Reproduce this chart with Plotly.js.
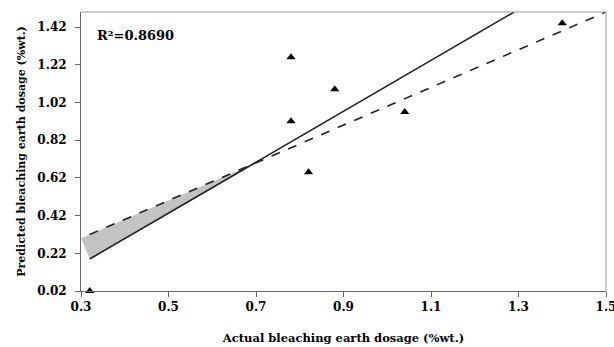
<!DOCTYPE html>
<html>
<head>
<meta charset="utf-8">
<script src="https://cdn.plot.ly/plotly-3.0.1.min.js"></script>
<style>html,body{margin:0;padding:0;background:#fff;}#chart{width:614px;height:347px;}</style>
</head>
<body>
<div id="chart"></div>
<script>
// Observed data (actual vs predicted bleaching earth dosage)
var actualX = [0.32, 0.78, 0.78, 0.82, 0.88, 1.04, 1.40];
var predictedY = [0.02, 1.26, 0.92, 0.65, 1.09, 0.97, 1.44];

// Fitted regression line (solid)
var fitX = [0.32, 1.29];
var fitY = [0.19, 1.50];

// Ideal line y = x (dashed)
var idealX = [0.32, 1.50];
var idealY = [0.32, 1.50];

// Shaded region between lines
var shadeX = [0.30, 0.32, 0.69, 0.30];
var shadeY = [0.30, 0.19, 0.69, 0.30];

var xTicks = [0.3, 0.5, 0.7, 0.9, 1.1, 1.3, 1.5];
var yTicks = [0.02, 0.22, 0.42, 0.62, 0.82, 1.02, 1.22, 1.42];
var r2Text = "R²=0.8690";

var fontFam = "DejaVu Serif, Liberation Serif, serif";

var traces = [
  {x: shadeX, y: shadeY, mode: "lines", fill: "toself", fillcolor: "#c3c3c3",
   line: {width: 0, color: "rgba(0,0,0,0)"}, hoverinfo: "skip", showlegend: false},
  {x: idealX, y: idealY, mode: "lines", line: {color: "#222", width: 1.6, dash: "dash"}, showlegend: false},
  {x: fitX, y: fitY, mode: "lines", line: {color: "#222", width: 1.6}, showlegend: false},
  {x: actualX, y: predictedY, mode: "markers", type: "scatter", cliponaxis: false,
   marker: {symbol: "triangle-up", size: 8, color: "#000"}, showlegend: false}
];

var layout = {
  width: 614, height: 347,
  margin: {l: 81, r: 8, t: 12, b: 56},
  paper_bgcolor: "#fff", plot_bgcolor: "#fff",
  font: {family: fontFam, size: 12, color: "#000", weight: "bold"},
  xaxis: {
    range: [0.3, 1.5], tickvals: xTicks, ticktext: xTicks.map(function(v){return v.toFixed(1);}),
    showgrid: false, zeroline: false, showline: true, linecolor: "#666", linewidth: 1,
    ticks: "outside", ticklen: 5, tickcolor: "#666", ticklabeloverflow: "allow",
    tickfont: {family: fontFam, size: 12, color: "#000", weight: "bold"},
    title: {text: "Actual bleaching earth dosage (%wt.)", font: {family: fontFam, size: 11.5, weight: "bold"}, standoff: 20}
  },
  yaxis: {
    range: [0.02, 1.5], tickvals: yTicks, ticktext: yTicks.map(function(v){return v.toFixed(2);}),
    showgrid: false, zeroline: false, showline: true, linecolor: "#666", linewidth: 1,
    ticks: "outside", ticklen: 5, tickcolor: "#666", ticklabelstandoff: 6,
    tickfont: {family: fontFam, size: 12, color: "#000", weight: "bold"},
    title: {text: "Predicted bleaching earth dosage (%wt.)", font: {family: fontFam, size: 11, weight: "bold"}, standoff: 9}
  },
  shapes: [
    {type: "line", xref: "paper", yref: "paper", x0: 0, x1: 1, y0: 1, y1: 1, line: {color: "#999", width: 1}},
    {type: "line", xref: "paper", yref: "paper", x0: 1, x1: 1, y0: 0, y1: 1, line: {color: "#999", width: 1}}
  ],
  annotations: [
    {xref: "paper", yref: "paper", x: 0.026, y: 0.915, xanchor: "left", yanchor: "middle",
     text: r2Text, showarrow: false, font: {family: fontFam, size: 13, color: "#000", weight: "bold"}}
  ]
};

Plotly.newPlot("chart", traces, layout, {displayModeBar: false, staticPlot: true});
</script>
</body>
</html>
